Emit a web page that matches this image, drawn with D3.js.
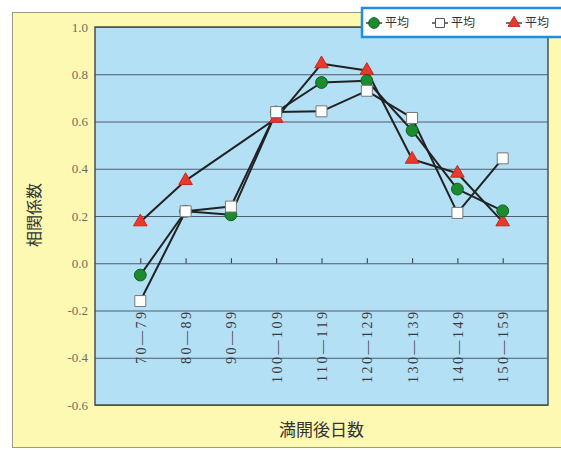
<!DOCTYPE html>
<html>
<head>
<meta charset="utf-8">
<script src="https://d3js.org/d3.v7.min.js"></script>
<style>
body { margin: 0; background: #fff; }
</style>
</head>
<body>
<div id="chart"></div>
<script>
// data
var categories = ["70\u201479", "80\u201489", "90\u201499", "100\u2014109", "110\u2014119",
                  "120\u2014129", "130\u2014139", "140\u2014149", "150\u2014159"];
var circleValues = [-0.05, 0.22, 0.205, 0.64, 0.765, 0.773, 0.562, 0.314, 0.222];
var squareValues = [-0.16, 0.22, 0.24, 0.64, 0.643, 0.73, 0.615, 0.213, 0.444];
var triangleValues = [0.175, 0.35, null, 0.613, 0.844, 0.816, 0.44, 0.381, 0.175];
var yTicks = [1.0, 0.8, 0.6, 0.4, 0.2, 0.0, -0.2, -0.4, -0.6];
var seriesNames = ["平均", "平均", "平均"];

var W = 561, H = 450,
    margin = {top: 27, right: 13, bottom: 45, left: 95},
    width = W - margin.left - margin.right,
    height = H - margin.top - margin.bottom;

var svg = d3.select("#chart").append("svg")
    .attr("width", W)
    .attr("height", H);

// outer yellow panel
svg.append("rect")
    .attr("x", 12.5).attr("y", 12.5)
    .attr("width", W).attr("height", 435)
    .attr("fill", "#fdf8b2")
    .attr("stroke", "#9a9a8a")
    .attr("stroke-width", 1);

var g = svg.append("g")
    .attr("transform", "translate(" + margin.left + "," + margin.top + ")");

var x = d3.scalePoint().domain(categories).range([0, width]).padding(1);
var y = d3.scaleLinear().domain([-0.6, 1.0]).range([height, 0]);

g.append("rect")
    .attr("width", width).attr("height", height)
    .attr("fill", "#b4e0f6");

// grid lines
var grid = g.append("g")
    .call(d3.axisLeft(y).tickValues(yTicks).tickSize(-width).tickFormat(""));
grid.select(".domain").remove();
grid.selectAll("line").attr("stroke", "#4d5d6e").attr("stroke-width", 1);

// y tick labels (plain hyphen for negatives, like the original)
var fmt = d3.format(".1f");
var yAxis = g.append("g")
    .call(d3.axisLeft(y).tickValues(yTicks).tickSize(0).tickPadding(7)
      .tickFormat(function(d) { return fmt(d).replace("\u2212", "-"); }));
yAxis.select(".domain").remove();
yAxis.selectAll("text")
    .attr("fill", "#6e6e66")
    .style("font-family", "'Liberation Serif', 'DejaVu Serif', serif")
    .style("font-size", "13px");

// small ticks on zero line
var zeroAxis = g.append("g")
    .attr("transform", "translate(0," + y(0) + ")")
    .call(d3.axisTop(x).tickSize(5).tickFormat(""));
zeroAxis.select(".domain").remove();
zeroAxis.selectAll("line").attr("stroke", "#333").attr("stroke-width", 1);

// category labels, rotated
var xAxis = g.append("g")
    .attr("transform", "translate(0," + y(-0.2) + ")")
    .call(d3.axisBottom(x).tickSize(0));
xAxis.select(".domain").remove();
xAxis.selectAll("text")
    .attr("transform", "rotate(-90)")
    .attr("text-anchor", "end")
    .attr("x", 1)
    .attr("y", 0)
    .attr("dy", "0.35em")
    .attr("fill", "#3a3a3a")
    .style("letter-spacing", "2.5px")
    .style("font-family", "'Liberation Serif', 'DejaVu Serif', serif")
    .style("font-size", "14px");

// plot border
g.append("rect")
    .attr("width", width).attr("height", height)
    .attr("fill", "none")
    .attr("stroke", "#4a4f52")
    .attr("stroke-width", 1.5);

var line = d3.line()
    .x(function(d) { return x(d.cat); })
    .y(function(d) { return y(d.v); });

function toPoints(values) {
  return categories.map(function(c, i) { return {cat: c, v: values[i]}; })
    .filter(function(d) { return d.v !== null; });
}

function drawLine(values) {
  g.append("path")
      .datum(toPoints(values))
      .attr("fill", "none")
      .attr("stroke", "#222")
      .attr("stroke-width", 2)
      .attr("stroke-linejoin", "round")
      .attr("d", line);
}

drawLine(triangleValues);
drawLine(squareValues);
drawLine(circleValues);

var sym = d3.symbol();

function drawMarkers(values, type, size, fill, stroke) {
  g.append("g").selectAll("path")
      .data(toPoints(values))
      .enter().append("path")
      .attr("transform", function(d) { return "translate(" + x(d.cat) + "," + y(d.v) + ")"; })
      .attr("d", sym.type(type).size(size)())
      .attr("fill", fill)
      .attr("stroke", stroke)
      .attr("stroke-width", 1);
}

drawMarkers(triangleValues, d3.symbolTriangle, 80, "#e8392d", "#c8281d");
drawMarkers(circleValues, d3.symbolCircle, 110, "#1c8a2e", "#116020");
drawMarkers(squareValues, d3.symbolSquare, 120, "#ffffff", "#777");

// axis titles
svg.append("text")
    .attr("transform", "translate(40,215) rotate(-90)")
    .attr("text-anchor", "middle")
    .attr("fill", "#333")
    .style("font-family", "'Noto Sans CJK JP', sans-serif")
    .style("font-size", "16px")
    .text("相関係数");

svg.append("text")
    .attr("x", margin.left + width / 2)
    .attr("y", 436)
    .attr("text-anchor", "middle")
    .attr("fill", "#333")
    .style("font-family", "'Noto Sans CJK JP', sans-serif")
    .style("font-size", "17px")
    .text("満開後日数");

// legend
var legend = svg.append("g").attr("transform", "translate(362,8)");
legend.append("rect")
    .attr("width", 205).attr("height", 29)
    .attr("fill", "#ffffff")
    .attr("stroke", "#1e8fe0")
    .attr("stroke-width", 2.5);

var legendItems = [
  {name: seriesNames[0], type: d3.symbolCircle, size: 90, fill: "#1c8a2e", stroke: "#116020", x: 12},
  {name: seriesNames[1], type: d3.symbolSquare, size: 80, fill: "#ffffff", stroke: "#555", x: 78},
  {name: seriesNames[2], type: d3.symbolTriangle, size: 60, fill: "#e8392d", stroke: "#c8281d", x: 152}
];

legendItems.forEach(function(it) {
  var li = legend.append("g").attr("transform", "translate(" + it.x + ",15)");
  li.append("line")
      .attr("x1", -8).attr("x2", 8)
      .attr("stroke", "#444").attr("stroke-width", 1.5);
  li.append("path")
      .attr("d", sym.type(it.type).size(it.size)())
      .attr("fill", it.fill)
      .attr("stroke", it.stroke);
  li.append("text")
      .attr("x", 11)
      .attr("dy", "0.35em")
      .attr("fill", "#333")
      .style("font-family", "'Noto Sans CJK JP', sans-serif")
      .style("font-size", "12px")
      .text(it.name);
});
</script>
</body>
</html>
